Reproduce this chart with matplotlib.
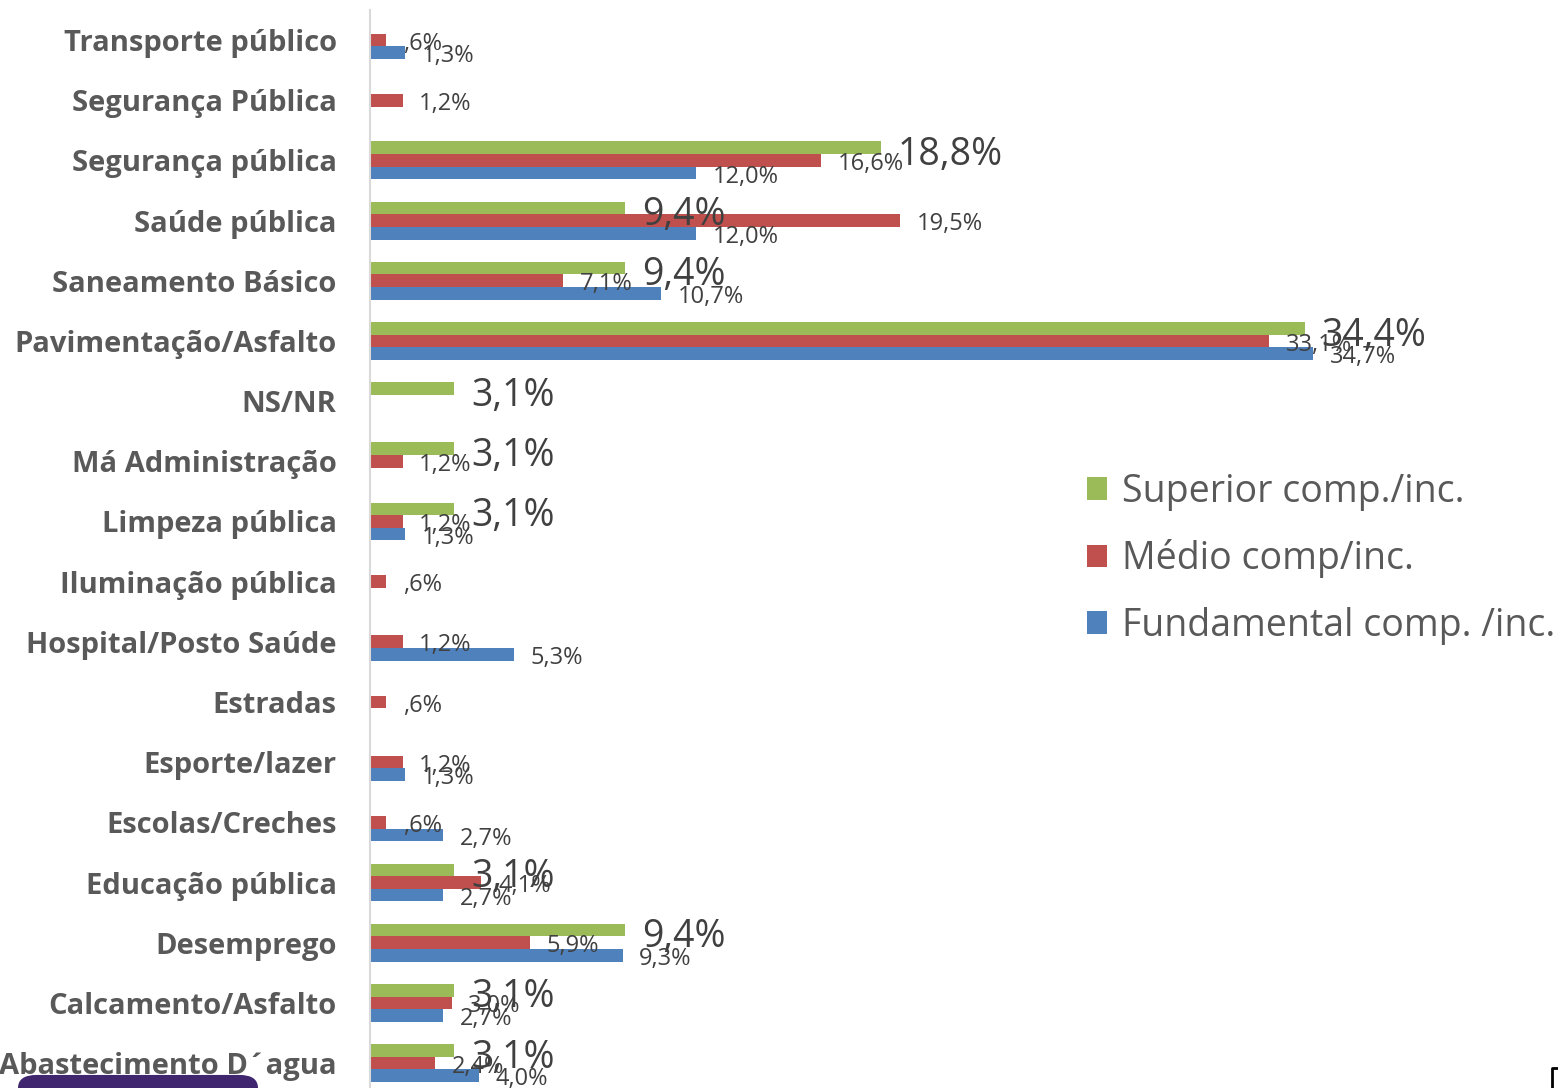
import matplotlib.pyplot as plt
from matplotlib.patches import Patch, FancyBboxPatch
from matplotlib.lines import Line2D
import numpy as np

categorias = ["Transporte público", "Segurança Pública", "Segurança pública",
              "Saúde pública", "Saneamento Básico", "Pavimentação/Asfalto",
              "NS/NR", "Má Administração", "Limpeza pública", "Iluminação pública",
              "Hospital/Posto Saúde", "Estradas", "Esporte/lazer", "Escolas/Creches",
              "Educação pública", "Desemprego", "Calcamento/Asfalto", "Abastecimento D´agua"]

superior = [0, 0, 18.8, 9.4, 9.4, 34.4, 3.1, 3.1, 3.1, 0, 0, 0, 0, 0, 3.1, 9.4, 3.1, 3.1]
medio = [0.6, 1.2, 16.6, 19.5, 7.1, 33.1, 0, 1.2, 1.2, 0.6, 1.2, 0.6, 1.2, 0.6, 4.1, 5.9, 3.0, 2.4]
fundamental = [1.3, 0, 12.0, 12.0, 10.7, 34.7, 0, 0, 1.3, 0, 5.3, 0, 1.3, 2.7, 2.7, 9.3, 2.7, 4.0]

series = ["Superior comp./inc.", "Médio comp/inc.", "Fundamental comp. /inc."]
cores = ["#9BBB59", "#C0504D", "#4F81BD"]

plt.rcParams['font.family'] = ['Open Sans', 'DejaVu Sans']

fig = plt.figure(figsize=(15.58, 10.88), dpi=100)
ax = fig.add_axes([370 / 1558, 0, 1 - 370 / 1558, 1078 / 1088])

y = np.arange(len(categorias))
h = 0.21

def fmt(v):
    s = ("%.1f" % v).replace(".", ",")
    if s.startswith("0"):
        s = s[1:]
    return s + "%"

dados = [superior, medio, fundamental]
desloc = [-h, 0, h]
for vals, cor, d in zip(dados, cores, desloc):
    ax.barh(y + d, vals, height=h, color=cor, edgecolor='none')

# rotulos
for i in range(len(categorias)):
    if superior[i] > 0:
        ax.annotate(fmt(superior[i]), (superior[i], y[i] - h + 0.12), xytext=(12, 0),
                    textcoords='offset points', va='center', ha='left',
                    fontsize=27, color='#404040')
    if medio[i] > 0:
        ax.annotate(fmt(medio[i]), (medio[i], y[i] + 0.06), xytext=(12, 0),
                    textcoords='offset points', va='center', ha='left',
                    fontsize=17, color='#404040')
    if fundamental[i] > 0:
        ax.annotate(fmt(fundamental[i]), (fundamental[i], y[i] + h + 0.06), xytext=(12, 0),
                    textcoords='offset points', va='center', ha='left',
                    fontsize=17, color='#404040')

ax.set_xlim(0, 1188 / 27.17)
ax.set_ylim(17.415, -0.5)
ax.set_yticks(y)
ax.set_yticklabels(categorias, fontsize=21, fontweight='bold', color='#595959')
ax.tick_params(axis='y', length=0, pad=24)
ax.set_xticks([])
for s in ['top', 'right', 'bottom']:
    ax.spines[s].set_visible(False)
ax.spines['left'].set_color('#D9D9D9')
ax.spines['left'].set_linewidth(1.5)

handles = [Patch(facecolor=c, edgecolor='none') for c in cores]
fig.legend(handles, series, loc='upper left', bbox_to_anchor=(1068 / 1558, 1 - 454 / 1088),
           frameon=False, fontsize=27, handlelength=0.55, handleheight=0.55,
           handletextpad=0.38, labelspacing=0.76, borderpad=0, labelcolor='#595959')

# caixa roxa no canto inferior
caixa = FancyBboxPatch((18 / 1558, -0.02), 240 / 1558, 0.032,
                       boxstyle="round,pad=0,rounding_size=0.012",
                       transform=fig.transFigure, facecolor='#40256F', edgecolor='none')
fig.patches.append(caixa)
fig.lines.append(Line2D([1552 / 1558, 1552 / 1558, 1558 / 1558], [0, 20 / 1088, 20 / 1088],
                        transform=fig.transFigure, color='black', lw=2))

fig.savefig("out.png", dpi=100)
